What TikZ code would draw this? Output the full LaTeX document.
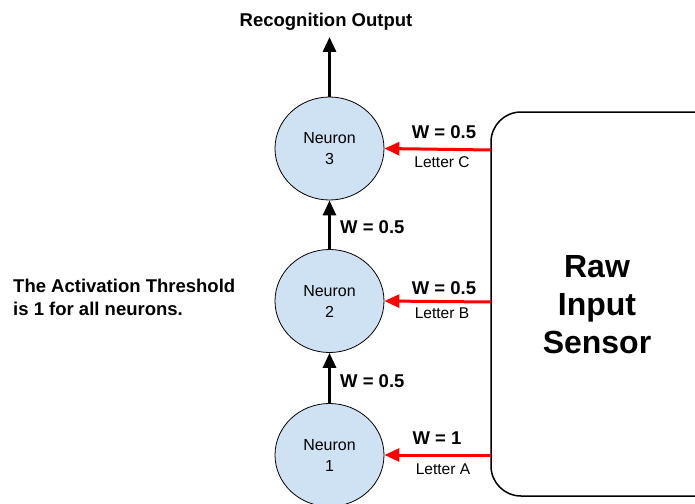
\documentclass[tikz,border=0pt]{standalone}
\usepackage{fontspec}
\setmainfont{Liberation Sans}
\usetikzlibrary{arrows.meta,shapes.geometric}
\definecolor{neuronfill}{HTML}{CFE2F3}
\definecolor{inred}{HTML}{FF0000}
\tikzset{
  neuron/.style={ellipse, draw=black, line width=0.8pt, fill=neuronfill,
    minimum width=109pt, minimum height=103pt, inner sep=0pt,
    align=center, font=\fontsize{16}{21}\selectfont},
  sensor/.style={draw=black, line width=1.5pt, rounded corners=30pt},
  uparrow/.style={line width=3pt, -{Triangle[length=15pt,width=13pt]}},
  inarrow/.style={draw=inred, line width=3pt, -{Triangle[length=15pt,width=13pt]}},
  boldlabel/.style={font=\fontsize{18.5}{23}\selectfont\bfseries, inner sep=0pt},
  smalllabel/.style={font=\fontsize{15.5}{18}\selectfont, inner sep=0pt},
}
\begin{document}
\begin{tikzpicture}[x=1pt,y=-1pt]
  \useasboundingbox (0,0) rectangle (695,503);
  \clip (0,0) rectangle (695,503);

  % neurons
  \node[neuron] (n3) at (329.5,148.5) {Neuron\\3};
  \node[neuron] (n2) at (329.5,301) {Neuron\\2};
  \node[neuron] (n1) at (329.5,455) {Neuron\\1};

  % output
  \node[boldlabel] (out) at (326,22) {Recognition Output};
  \coordinate (outtip) at (329.5,37);
  \draw[uparrow] (n3.north) -- (outtip);

  % neuron-to-neuron connections
  \draw[uparrow] (n1.north) -- (n2.south);
  \draw[uparrow] (n2.north) -- (n3.south);
  \node[boldlabel, anchor=west] (w12) at (340,381) {W = 0.5};
  \node[boldlabel, anchor=west] (w23) at (340,227) {W = 0.5};

  % sensor box
  \draw[sensor] (491,112) rectangle (725,496);
  \coordinate (s3) at (491,150);
  \coordinate (s2) at (491,302);
  \coordinate (s1) at (491,455);
  \node[font=\fontsize{32}{38}\selectfont\bfseries, align=center] (sensor) at (597,305) {Raw\\Input\\Sensor};

  % inputs
  \draw[inarrow] (s3) -- (n3.east);
  \draw[inarrow] (s2) -- (n2.east);
  \draw[inarrow] (s1) -- (n1.east);
  \node[boldlabel] (w3) at (444,132) {W = 0.5};
  \node[smalllabel] (l3) at (442,162) {Letter C};
  \node[boldlabel] (w2) at (444,288) {W = 0.5};
  \node[smalllabel] (l2) at (442,313) {Letter B};
  \node[boldlabel] (w1) at (437,438) {W = 1};
  \node[smalllabel] (l1) at (443,469) {Letter A};

  % note
  \node[boldlabel, anchor=north west, align=left] (note) at (13,279)
    {The Activation Threshold\\is 1 for all neurons.};
\end{tikzpicture}
\end{document}
